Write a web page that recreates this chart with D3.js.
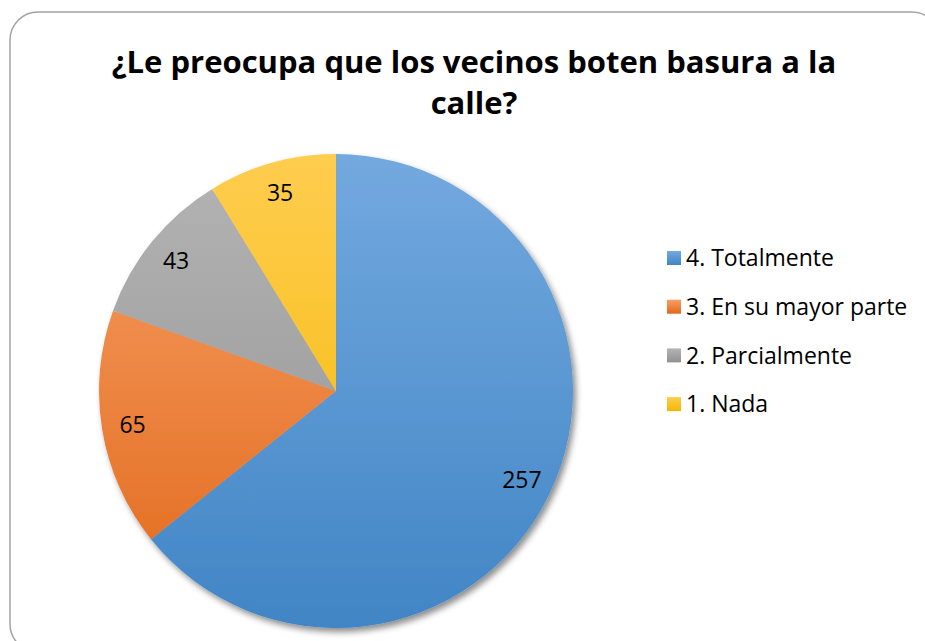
<!DOCTYPE html>
<html>
<head>
<meta charset="utf-8">
<script src="https://cdn.jsdelivr.net/npm/d3@7"></script>
<style>
  body { margin: 0; background: #fff; }
  svg { display: block; }
</style>
</head>
<body>
<script>
// chart data
var categories = ["4. Totalmente", "3. En su mayor parte", "2. Parcialmente", "1. Nada"];
var values = [257, 65, 43, 35];
var topColors = ["#73a9df", "#f7a066", "#b4b4b4", "#ffcd4f"];
var bottomColors = ["#4185c5", "#e1681a", "#919191", "#f3b700"];
var titleLines = ["¿Le preocupa que los vecinos boten basura a la", "calle?"];

var width = 925, height = 641;
var cx = 336, cy = 391, radius = 237;

var svg = d3.select("body").append("svg")
    .attr("width", width)
    .attr("height", height);

var defs = svg.append("defs");

// soft shadow under the pie
var shadow = defs.append("filter")
    .attr("id", "shadow")
    .attr("x", "-10%").attr("y", "-10%")
    .attr("width", "125%").attr("height", "125%");
shadow.append("feDropShadow")
    .attr("dx", 3).attr("dy", 4)
    .attr("stdDeviation", 3)
    .attr("flood-color", "#000")
    .attr("flood-opacity", 0.45);

// one vertical gradient per slice, spanning the whole pie (pie-local coords)
categories.forEach(function(c, i) {
    var g = defs.append("linearGradient")
        .attr("id", "grad" + i)
        .attr("gradientUnits", "userSpaceOnUse")
        .attr("x1", 0).attr("x2", 0)
        .attr("y1", -radius).attr("y2", radius);
    g.append("stop").attr("offset", "0%").attr("stop-color", topColors[i]);
    g.append("stop").attr("offset", "100%").attr("stop-color", bottomColors[i]);

    var lg = defs.append("linearGradient")
        .attr("id", "lg" + i)
        .attr("x1", 0).attr("x2", 0).attr("y1", 0).attr("y2", 1);
    lg.append("stop").attr("offset", "0%").attr("stop-color", topColors[i]);
    lg.append("stop").attr("offset", "100%").attr("stop-color", bottomColors[i]);
});

// frame
svg.append("rect")
    .attr("x", 10).attr("y", 12)
    .attr("width", 930).attr("height", 640)
    .attr("rx", 28).attr("ry", 28)
    .attr("fill", "none")
    .attr("stroke", "#a3a3a3")
    .attr("stroke-width", 1.5);

// title
svg.append("g").selectAll("text")
    .data(titleLines)
    .enter().append("text")
    .attr("x", 474)
    .attr("y", function(d, i) { return 73 + i * 41; })
    .attr("text-anchor", "middle")
    .attr("font-family", "'Open Sans', sans-serif")
    .attr("font-weight", "bold")
    .attr("font-size", 31)
    .attr("fill", "#000")
    .text(function(d) { return d; });

var pie = d3.pie().sort(null).value(function(d) { return d; });
var arcs = pie(values);

var arc = d3.arc().innerRadius(0).outerRadius(radius);
var labelArc = d3.arc().innerRadius(0).outerRadius(radius * 1.74);

var pieG = svg.append("g")
    .attr("transform", "translate(" + cx + "," + cy + ")");

pieG.append("g")
    .attr("filter", "url(#shadow)")
    .selectAll("path")
    .data(arcs)
    .enter().append("path")
    .attr("d", arc)
    .attr("fill", function(d, i) { return "url(#grad" + i + ")"; });

pieG.append("g").selectAll("text")
    .data(arcs)
    .enter().append("text")
    .attr("transform", function(d) {
        return "translate(" + labelArc.centroid(d) + ")";
    })
    .attr("text-anchor", "middle")
    .attr("dy", "0.35em")
    .attr("font-family", "'Open Sans', sans-serif")
    .attr("font-size", 23)
    .attr("fill", "#000")
    .text(function(d) { return d.data; });

// legend
var legend = svg.append("g")
    .attr("transform", "translate(667,258)");

var item = legend.selectAll("g")
    .data(categories)
    .enter().append("g")
    .attr("transform", function(d, i) { return "translate(0," + (i * 48.7) + ")"; });

item.append("rect")
    .attr("x", 0).attr("y", -7)
    .attr("width", 14).attr("height", 14)
    .attr("fill", function(d, i) { return "url(#lg" + i + ")"; });

item.append("text")
    .attr("x", 19)
    .attr("dy", "0.36em")
    .attr("font-family", "'Open Sans', sans-serif")
    .attr("font-size", 23)
    .attr("fill", "#000")
    .text(function(d) { return d; });
</script>
</body>
</html>
